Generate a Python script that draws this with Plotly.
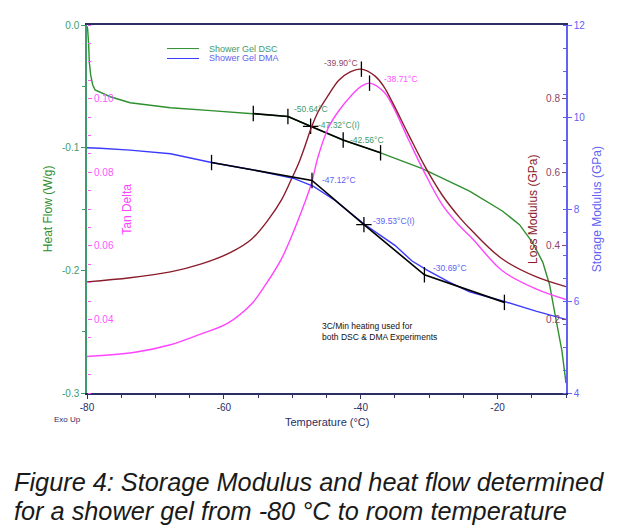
import plotly.graph_objects as go

# DSC heat flow (W/g)
hf_temp = [-80.0, -79.9, -79.75, -79.66, -79.46, -79.16, -78.82, -76.6, -73.7, -67.8,
           -61.9, -55.7, -50.6, -47.3, -42.6, -37.1, -31.0, -24.1, -19.3, -16.8,
           -14.9, -13.4, -12.4, -11.5, -10.6, -10.0]
hf_flow = [-0.001, -0.0035, -0.0168, -0.0305, -0.0409, -0.0489, -0.0529, -0.0585, -0.0634, -0.0674,
           -0.0698, -0.0722, -0.0746, -0.0826, -0.0938, -0.1042, -0.1171, -0.1355, -0.1516, -0.1628,
           -0.1772, -0.1933, -0.2117, -0.2390, -0.2654, -0.292]

# DSC tangent construction
hf_tan_temp = [-55.7, -50.64, -47.32, -42.56, -37.1]
hf_tan_flow = [-0.0722, -0.0746, -0.0826, -0.0938, -0.1042]

# DMA storage modulus (GPa)
sm_temp = [-80.0, -78.1, -73.7, -67.8, -61.8, -56.0, -49.7, -46.9, -43.8, -39.4,
           -35.0, -32.5, -30.3, -27.2, -24.1, -19.0, -14.4, -10.0]
sm_mod = [9.33, 9.32, 9.28, 9.20, 9.01, 8.86, 8.66, 8.49, 8.19, 7.66,
          7.21, 6.87, 6.67, 6.42, 6.20, 5.99, 5.78, 5.60]

# DMA tangent construction
sm_tan_temp = [-61.8, -47.12, -39.53, -30.69, -19.0]
sm_tan_mod = [9.01, 8.62, 7.66, 6.57, 5.97]

# DMA loss modulus (GPa)
lm_temp = [-80.0, -73.7, -67.8, -63.4, -59.0, -56.0, -53.5, -51.6, -50.2, -49.1,
           -48.2, -47.2, -46.2, -44.7, -43.2, -41.6, -39.9, -37.9, -36.6, -35.4,
           -32.9, -30.6, -28.1, -25.6, -23.7, -19.3, -14.4, -10.0]
lm_mod = [0.302, 0.313, 0.329, 0.350, 0.382, 0.417, 0.471, 0.524, 0.578, 0.623,
          0.668, 0.722, 0.765, 0.810, 0.850, 0.872, 0.880, 0.861, 0.832, 0.791,
          0.698, 0.615, 0.538, 0.478, 0.440, 0.364, 0.316, 0.289]

# DMA tan delta
td_temp = [-80.0, -73.2, -67.8, -63.4, -59.4, -56.0, -54.1, -51.6, -49.7, -48.2,
           -47.2, -46.2, -44.7, -43.2, -41.3, -39.9, -38.71, -36.6, -35.4, -32.9,
           -30.6, -28.1, -25.6, -23.7, -19.3, -14.4, -10.0]
td_val = [0.0299, 0.0310, 0.0331, 0.0360, 0.0390, 0.0441, 0.0489, 0.0564, 0.0644, 0.0716,
          0.0770, 0.0844, 0.0922, 0.0967, 0.1010, 0.1034, 0.1042, 0.1018, 0.0983, 0.0884,
          0.0796, 0.0712, 0.0655, 0.0620, 0.0532, 0.0483, 0.0454]

# peaks
lm_peak = (-39.90, 0.880)
td_peak = (-38.71, 0.1042)

x_ticks = [-80, -60, -40, -20]
x_ticktext = ["-80", "-60", "-40", "-20"]
hf_ticks = [0.0, -0.1, -0.2, -0.3]
hf_ticktext = ["0.0", "-0.1", "-0.2", "-0.3"]
td_ticks = [0.04, 0.06, 0.08, 0.10]
lm_ticks = [0.2, 0.4, 0.6, 0.8]
sm_ticks = [4, 6, 8, 10, 12]

GREEN = "#2f8f2f"
GREEN_T = "#3f9a6c"
BLUE = "#3b3bff"
BLUE_T = "#6262f2"
MAROON = "#8b1c2c"
MAROON_T = "#8e4466"
MAGENTA = "#ff44ff"
MAGENTA_T = "#ff55ff"
NAVY = "#2b2f63"
FONT = "Liberation Sans, Arial, sans-serif"

fig = go.Figure()
fig.add_trace(go.Scatter(x=hf_temp, y=hf_flow, mode="lines", line=dict(color=GREEN, width=1.4), yaxis="y"))
fig.add_trace(go.Scatter(x=sm_temp, y=sm_mod, mode="lines", line=dict(color=BLUE, width=1.4), yaxis="y4"))
fig.add_trace(go.Scatter(x=lm_temp, y=lm_mod, mode="lines", line=dict(color=MAROON, width=1.4, shape="spline"),
                         yaxis="y3"))
fig.add_trace(go.Scatter(x=td_temp, y=td_val, mode="lines", line=dict(color=MAGENTA, width=1.4, shape="spline"),
                         yaxis="y2"))

# tangent lines with tick marks
tick_syms = ["line-ns", "line-ns", "cross-thin", "line-ns", "line-ns"]
fig.add_trace(go.Scatter(x=hf_tan_temp, y=hf_tan_flow, mode="lines+markers", yaxis="y",
                         line=dict(color="black", width=1.6),
                         marker=dict(symbol=tick_syms, size=11, line=dict(color="black", width=1.3))))
fig.add_trace(go.Scatter(x=sm_tan_temp, y=sm_tan_mod, mode="lines+markers", yaxis="y4",
                         line=dict(color="black", width=1.6),
                         marker=dict(symbol=tick_syms, size=11, line=dict(color="black", width=1.3))))
fig.add_trace(go.Scatter(x=[lm_peak[0]], y=[lm_peak[1]], mode="markers", yaxis="y3",
                         marker=dict(symbol="line-ns", size=11, line=dict(color="black", width=1.3))))
fig.add_trace(go.Scatter(x=[td_peak[0]], y=[td_peak[1]], mode="markers", yaxis="y2",
                         marker=dict(symbol="line-ns", size=11, line=dict(color="black", width=1.3))))

labels = [
    ("-50.64°C", -50.0, -0.0682, "y", GREEN_T, "left"),
    ("-47.32°C(I)", -46.6, -0.0818, "y", GREEN_T, "left"),
    ("-42.56°C", -41.9, -0.0938, "y", GREEN_T, "left"),
    ("-47.12°C", -46.0, 8.62, "y4", BLUE_T, "left"),
    ("-39.53°C(I)", -38.5, 7.74, "y4", BLUE_T, "left"),
    ("-30.69°C", -29.7, 6.72, "y4", BLUE_T, "left"),
    ("-39.90°C", -40.15, 0.896, "y3", MAROON_T, "right"),
    ("-38.71°C", -36.9, 0.1053, "y2", MAGENTA_T, "left"),
]
for txt, lx, ly, yr, col, anc in labels:
    fig.add_annotation(text=txt, x=lx, y=ly, xref="x", yref=yr, xanchor=anc, yanchor="middle",
                       showarrow=False, font=dict(size=8.5, color=col, family=FONT))

fig.add_annotation(text="3C/Min heating used for<br>both DSC & DMA Experiments", x=-46.0, y=-0.250,
                   xref="x", yref="y", xanchor="left", yanchor="middle", align="left",
                   showarrow=False, font=dict(size=8.5, color="#111111", family=FONT))

# legend (short line samples with coloured names)
legend_items = [("Shower Gel DSC", GREEN, GREEN_T, 0.936), ("Shower Gel DMA", BLUE, BLUE_T, 0.909)]
for name, lc, tc, ly in legend_items:
    fig.add_shape(type="line", xref="paper", yref="paper", x0=0.167, x1=0.234, y0=ly, y1=ly,
                  line=dict(color=lc, width=1))
    fig.add_annotation(text=name, x=0.2505, y=ly, xref="paper", yref="paper", xanchor="left",
                       yanchor="middle", showarrow=False, font=dict(size=9, color=tc, family=FONT))

# axis titles
titles = [("Heat Flow (W/g)", -0.081, GREEN), ("Tan Delta", 0.083, MAGENTA),
          ("Loss Modulus (GPa)", 0.931, MAROON), ("Storage Modulus (GPa)", 1.065, BLUE_T)]
for txt, tx, col in titles:
    fig.add_annotation(text=txt, x=tx, y=0.5, xref="paper", yref="paper", textangle=-90,
                       xanchor="center", yanchor="middle", showarrow=False,
                       font=dict(size=12, color=col, family=FONT))
fig.add_annotation(text="Temperature (°C)", x=0.50, y=-0.078, xref="paper", yref="paper",
                   xanchor="center", yanchor="middle", showarrow=False,
                   font=dict(size=11, color=NAVY, family=FONT))
fig.add_annotation(text="Exo Up", x=-0.073, y=-0.072, xref="paper", yref="paper", xanchor="left",
                   yanchor="middle", showarrow=False, font=dict(size=8, color=NAVY, family=FONT))
caption = ["Figure 4: Storage Modulus and heat flow determined",
           "for a shower gel from -80 °C to room temperature"]
for line, cy in zip(caption, [-0.2406, -0.3209]):
    fig.add_annotation(text="<i>%s</i>" % line, x=-0.157, y=cy, xref="paper", yref="paper",
                       xanchor="left", yanchor="middle", showarrow=False,
                       font=dict(size=25.3, color="#1a1a1a", family=FONT))

fig.update_layout(
    width=611, height=524,
    margin=dict(l=79, r=53, t=11, b=139),
    paper_bgcolor="white", plot_bgcolor="white",
    font=dict(family=FONT, size=10),
    showlegend=False,
    xaxis=dict(range=[-80, -10], tickvals=x_ticks, ticktext=x_ticktext, ticks="outside", ticklen=4,
               tickcolor=NAVY, showline=True, linecolor=NAVY, linewidth=1.5, mirror=True,
               showgrid=False, zeroline=False, tickfont=dict(size=10, color=NAVY),
               minor=dict(dtick=5, tick0=-80, ticks="outside", ticklen=3, tickcolor=NAVY)),
    yaxis=dict(range=[-0.3, 0], tickvals=hf_ticks, ticktext=hf_ticktext, ticks="outside", ticklen=4,
               tickcolor=GREEN_T, showline=True, linecolor=GREEN_T, linewidth=1.5,
               showgrid=False, zeroline=False, tickfont=dict(size=10, color=GREEN_T),
               minor=dict(dtick=0.05, tick0=0, ticks="outside", ticklen=3, tickcolor=GREEN_T)),
    # tan delta: right-sided axis parked on the left edge so ticks and labels sit inside
    yaxis2=dict(range=[0.02, 0.12], overlaying="y", side="right", anchor="free", position=0.0,
                tickvals=td_ticks, tickformat=".2f", ticks="outside", ticklen=4, tickcolor=MAGENTA_T,
                showline=False, showgrid=False, zeroline=False, tickfont=dict(size=10, color=MAGENTA_T),
                minor=dict(dtick=0.005, tick0=0.02, ticks="outside", ticklen=3, tickcolor=MAGENTA_T)),
    # loss modulus: left-sided axis parked on the right edge
    yaxis3=dict(range=[0, 1.0], overlaying="y", side="left", anchor="free", position=1.0,
                tickvals=lm_ticks, tickformat=".1f", ticks="outside", ticklen=4, tickcolor=MAROON_T,
                showline=False, showgrid=False, zeroline=False, tickfont=dict(size=10, color=MAROON_T)),
    yaxis4=dict(range=[4, 12], overlaying="y", side="right", anchor="x", tickvals=sm_ticks,
                ticks="outside", ticklen=4, tickcolor=BLUE_T, showline=True, linecolor=BLUE_T, linewidth=1.5,
                showgrid=False, zeroline=False, tickfont=dict(size=10, color=BLUE_T),
                minor=dict(dtick=0.5, tick0=4, ticks="inside", ticklen=3, tickcolor=BLUE_T)),
)

fig.write_html("out.html")
